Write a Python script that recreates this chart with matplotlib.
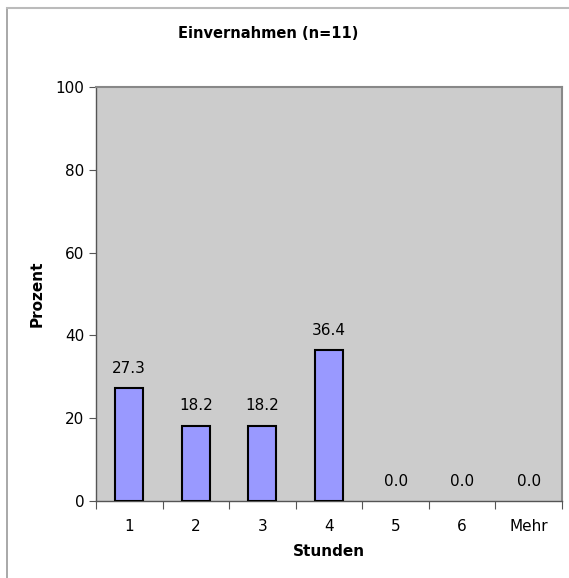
import matplotlib.pyplot as plt
from matplotlib.lines import Line2D
import numpy as np

# Data
categories = ["1", "2", "3", "4", "5", "6", "Mehr"]
percent = [27.3, 18.2, 18.2, 36.4, 0.0, 0.0, 0.0]

fig = plt.figure(figsize=(5.69, 5.78), dpi=100)
ax = fig.add_axes([96 / 569, 77 / 578, 466 / 569, 414 / 578])

x = np.arange(len(categories))
edges = ["black" if v > 0 else "none" for v in percent]
ax.bar(x, percent, width=0.42, color="#9999ff", edgecolor=edges, linewidth=1.5, zorder=3)

# Value labels
for xi, v in zip(x, percent):
    ax.text(xi, v + 3, f"{v:.1f}", ha="center", va="bottom", fontsize=11)

ax.set_facecolor("#cccccc")
ax.set_xlim(-0.5, len(categories) - 0.5)
ax.set_ylim(0, 100)
ax.set_yticks([0, 20, 40, 60, 80, 100])

# x ticks between categories, labels centred
ax.set_xticks(np.arange(-0.5, len(categories), 1.0))
ax.set_xticklabels([])
ax.set_xticks(x, minor=True)
ax.set_xticklabels(categories, minor=True)
ax.tick_params(axis="x", which="minor", length=0, pad=13, labelsize=11)
ax.tick_params(axis="x", which="major", length=6, color="#555555")
ax.tick_params(axis="y", length=5, labelsize=11, color="#555555")

for side in ["top", "right"]:
    ax.spines[side].set_color("#888888")
    ax.spines[side].set_linewidth(1.5)
for side in ["left", "bottom"]:
    ax.spines[side].set_color("#555555")
    ax.spines[side].set_linewidth(1.0)

ax.set_xlabel("Stunden", fontsize=11, fontweight="bold", labelpad=7)
ax.set_ylabel("Prozent", fontsize=11, fontweight="bold", labelpad=8)
fig.text(268 / 569, 1 - 33 / 578, "Einvernahmen (n=11)",
         ha="center", va="center", fontsize=10.5, fontweight="bold")

# outer frame (left and top edges visible)
fig.add_artist(Line2D([7 / 569, 7 / 569], [0, 1 - 8 / 578], color="#999999", lw=1.2))
fig.add_artist(Line2D([7 / 569, 1], [1 - 8 / 578, 1 - 8 / 578], color="#bbbbbb", lw=1.5))

fig.savefig("out.png", dpi=100)
